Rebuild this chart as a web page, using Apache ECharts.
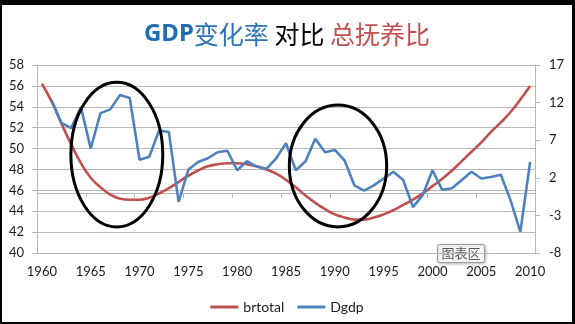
<!DOCTYPE html>
<html>
<head>
<meta charset="utf-8">
<script src="https://cdn.jsdelivr.net/npm/echarts@6/dist/echarts.min.js"></script>
<style>
  html, body { margin: 0; padding: 0; background: #000; }
  #frame { position: relative; width: 575px; height: 324px; background: #000; overflow: hidden; }
  #chart { position: absolute; left: 2px; top: 5px; width: 570px; height: 317px; background: #fff; }
</style>
</head>
<body>
<div id="frame"><div id="chart"></div></div>
<script>
// Years on the category axis
const years = [];
for (let y = 1960; y <= 2010; y++) years.push(String(y));

// Total dependency ratio (left axis)
const brtotal = [
  56.2, 54.5, 52.4, 50.4, 48.6, 47.2, 46.3, 45.6, 45.2, 45.1,
  45.1, 45.3, 45.7, 46.2, 46.8, 47.4, 47.9, 48.3, 48.5, 48.6,
  48.6, 48.5, 48.3, 48.0, 47.6, 47.0, 46.3, 45.5, 44.8, 44.2,
  43.7, 43.4, 43.2, 43.2, 43.4, 43.7, 44.1, 44.6, 45.1, 45.7,
  46.4, 47.1, 47.9, 48.8, 49.7, 50.6, 51.6, 52.5, 53.5, 54.7,
  56.0
];

// Change in GDP growth rate (right axis); no value for 1960
const dgdp = [
  null, 12.3, 9.3, 8.6, 11.4, 5.9, 10.6, 11.1, 13.0, 12.6,
  4.4, 4.8, 8.3, 8.1, -1.2, 3.1, 4.1, 4.6, 5.4, 5.6,
  3.0, 4.2, 3.5, 3.2, 4.6, 6.6, 3.0, 4.2, 7.2, 5.4,
  5.7, 4.3, 1.0, 0.3, 1.0, 1.9, 2.8, 1.7, -1.9, -0.3,
  3.0, 0.4, 0.6, 1.7, 2.8, 1.9, 2.1, 2.4, -1.0, -5.2,
  4.1
];

// Highlighted periods: [first year, last year, low value, high value] on the left axis
const highlightPeriods = [
  [1962.97, 1972.38, 42.5, 56.34],
  [1985.34, 1995.31, 42.5, 54.16]
];

const leftTicks = { min: 40, max: 58, interval: 2 };
const rightTicks = { min: -8, max: 17, interval: 5 };

const axisFont = { fontFamily: 'Lato', fontSize: 13, color: '#1a1a1a' };
const gridGray = '#b8b8b8';

const chart = echarts.init(document.getElementById('chart'), null, { renderer: 'canvas' });

chart.setOption({
  animation: false,
  backgroundColor: '#fff',
  title: {
    text: '{a|GDP}{b|变化率}{c| 对比 }{d|总抚养比}',
    left: 'center',
    top: 12,
    textStyle: {
      rich: {
        a: { fontFamily: 'Noto Sans', fontWeight: 'bold', fontSize: 24, color: '#1f6db3' },
        b: { fontFamily: 'Noto Sans CJK SC', fontWeight: 'normal', fontSize: 25, color: '#2b74b8' },
        c: { fontFamily: 'Noto Sans CJK SC', fontWeight: 'normal', fontSize: 25, color: '#000' },
        d: { fontFamily: 'Noto Sans CJK SC', fontWeight: 'normal', fontSize: 25, color: '#c0504d' }
      }
    }
  },
  legend: {
    data: ['brtotal', 'Dgdp'],
    top: 290,
    left: 'center',
    icon: 'rect',
    itemWidth: 28,
    itemHeight: 3,
    itemGap: 13,
    textStyle: { fontFamily: 'Lato', fontSize: 14, color: '#1a1a1a' }
  },
  grid: { left: 35, right: 37, top: 60, bottom: 69, containLabel: false },
  xAxis: [
    {
      type: 'category',
      data: years,
      boundaryGap: true,
      axisLine: { lineStyle: { color: gridGray } },
      axisTick: { show: true, interval: 4, length: 5, lineStyle: { color: gridGray } },
      axisLabel: Object.assign({ interval: 4, margin: 12 }, axisFont),
      splitLine: { show: false }
    },
    {
      // numeric companion axis for drawing the highlight ellipses
      type: 'value',
      min: 1959.5,
      max: 2010.5,
      show: false
    }
  ],
  yAxis: [
    {
      type: 'value',
      min: leftTicks.min,
      max: leftTicks.max,
      interval: leftTicks.interval,
      axisLine: { show: true, lineStyle: { color: gridGray } },
      axisTick: { show: true, length: 5, lineStyle: { color: gridGray } },
      axisLabel: Object.assign({ margin: 13 }, axisFont),
      splitLine: { show: true, lineStyle: { color: gridGray, width: 1 } }
    },
    {
      type: 'value',
      min: rightTicks.min,
      max: rightTicks.max,
      interval: rightTicks.interval,
      position: 'right',
      axisLine: { show: true, lineStyle: { color: gridGray } },
      axisTick: { show: true, length: 5, lineStyle: { color: gridGray } },
      axisLabel: Object.assign({ margin: 14 }, axisFont),
      splitLine: { show: false }
    }
  ],
  series: [
    {
      name: 'brtotal',
      type: 'line',
      data: brtotal,
      yAxisIndex: 0,
      smooth: true,
      showSymbol: false,
      lineStyle: { color: '#c0504d', width: 2.6 },
      itemStyle: { color: '#c0504d' },
      z: 3
    },
    {
      name: 'Dgdp',
      type: 'line',
      data: dgdp,
      yAxisIndex: 1,
      showSymbol: false,
      lineStyle: { color: '#4f81bd', width: 2.6 },
      itemStyle: { color: '#4f81bd' },
      z: 4
    },
    {
      name: 'highlight',
      type: 'custom',
      xAxisIndex: 1,
      yAxisIndex: 0,
      silent: true,
      z: 5,
      data: highlightPeriods,
      renderItem: function (params, api) {
        const x0 = api.value(0), x1 = api.value(1);
        const y0 = api.value(2), y1 = api.value(3);
        const c = api.coord([(x0 + x1) / 2, (y0 + y1) / 2]);
        const s = api.size([(x1 - x0) / 2, (y1 - y0) / 2]);
        return {
          type: 'ellipse',
          shape: { cx: c[0], cy: c[1], rx: s[0], ry: s[1] },
          style: { fill: null, stroke: '#000', lineWidth: 3 }
        };
      }
    }
  ],
  graphic: [
    {
      type: 'group',
      left: 435,
      top: 239,
      z: 100,
      children: [
        {
          type: 'rect',
          shape: { x: 0, y: 0, width: 47, height: 18, r: 2 },
          style: {
            fill: '#fbfbfb', stroke: '#9a9a9a', lineWidth: 1,
            shadowBlur: 3, shadowColor: 'rgba(0,0,0,0.25)', shadowOffsetX: 1, shadowOffsetY: 1
          }
        },
        {
          type: 'text',
          x: 23.5,
          y: 9,
          style: {
            text: '图表区',
            fontFamily: 'Noto Sans CJK SC',
            fontSize: 13,
            fill: '#555',
            align: 'center',
            verticalAlign: 'middle'
          }
        }
      ]
    }
  ]
});
</script>
</body>
</html>
